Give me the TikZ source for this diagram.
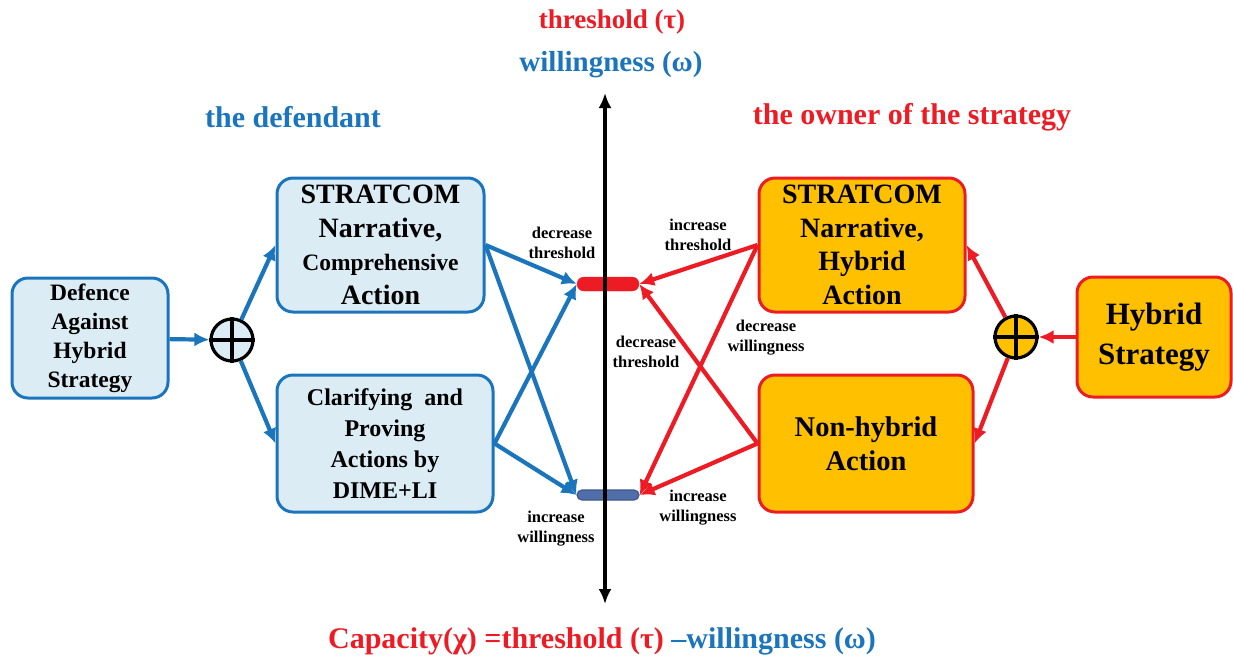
\documentclass[tikz,border=0pt]{standalone}
\usepackage{fontspec}
\setmainfont{Liberation Serif}
\usetikzlibrary{arrows.meta}

\definecolor{defblue}{RGB}{27,117,188}
\definecolor{deffill}{RGB}{219,236,245}
\definecolor{ownred}{RGB}{237,28,36}
\definecolor{ownfill}{RGB}{255,192,0}
\definecolor{barblue}{RGB}{79,110,170}
\newcommand{\fsz}[2]{\fontsize{#1}{#2}\selectfont}

\tikzset{
  defbox/.style={draw=defblue, fill=deffill, line width=3pt, rounded corners=16pt,
    align=center, inner sep=1pt, font=\bfseries},
  ownbox/.style={draw=ownred, fill=ownfill, line width=3pt, rounded corners=16pt,
    align=center, inner sep=1pt, font=\bfseries},
  plusnode/.style={circle, draw=black, line width=3.2pt, minimum size=42pt, inner sep=0pt},
  defarrow/.style={draw=defblue, line width=4.2pt, -{Latex[length=15pt,width=14pt]}},
  ownarrow/.style={draw=ownred, line width=4.2pt, -{Latex[length=15pt,width=14pt]}},
  efflabel/.style={font=\bfseries\fsz{16.5}{20}, align=center},
}

\begin{document}
\begin{tikzpicture}[x=1pt, y=-1pt]
  \useasboundingbox (0,0) rectangle (1233,662);

  % headings
  \node[font=\bfseries\fsz{27}{30}, text=ownred] (thrhead) at (612,22) {threshold (τ)};
  \node[font=\bfseries\fsz{29}{30}, text=defblue] (wilhead) at (611,65) {willingness (ω)};
  \node[font=\bfseries\fsz{30}{32}, text=defblue] (defhead) at (293,117) {the defendant};
  \node[font=\bfseries\fsz{30}{32}, text=ownred] (ownhead) at (912,117) {the owner of the strategy};

  % the defendant side
  \node[defbox, minimum width=156pt, minimum height=120pt, font=\bfseries\fsz{23.5}{29}]
    (defence) at (90,338) {Defence\\Against\\Hybrid\\Strategy};
  \node[plusnode, fill=deffill] (plusL) at (232,340) {};
  \draw[line width=3.2pt] (plusL.north) -- (plusL.south) (plusL.west) -- (plusL.east);
  \node[defbox, minimum width=207pt, minimum height=134pt, font=\bfseries\fsz{28}{33.5}]
    (stratL) at (380.5,245) {STRATCOM\\Narrative,\\{\fsz{23.5}{33.5}Comprehensive}\\Action};
  \node[defbox, minimum width=216pt, minimum height=137pt, font=\bfseries\fsz{24}{31}]
    (clarif) at (385,443.5) {Clarifying\ \ and\\Proving\\Actions by\\DIME+LI};

  % the owner side
  \node[ownbox, minimum width=206pt, minimum height=134pt, font=\bfseries\fsz{28}{33.5}]
    (stratR) at (862,245) {STRATCOM\\Narrative,\\Hybrid\\Action};
  \node[ownbox, minimum width=214pt, minimum height=137pt, font=\bfseries\fsz{28.5}{34}]
    (nonhyb) at (866,443.5) {Non-hybrid\\Action};
  \node[plusnode, fill=ownfill] (plusR) at (1016,337) {};
  \draw[line width=3.2pt] (plusR.north) -- (plusR.south) (plusR.west) -- (plusR.east);
  \node[ownbox, minimum width=154pt, minimum height=120pt, font=\bfseries\fsz{31}{40}]
    (hybrid) at (1154,337) {Hybrid\\Strategy};

  % threshold and willingness bars
  \node[draw=ownred, fill=ownred, rounded corners=7pt, minimum width=62pt, minimum height=14pt,
    inner sep=0pt] (thrbar) at (608,284) {};
  \node[draw=barblue!80!black, fill=barblue, line width=1.2pt, rounded corners=5pt, minimum width=62pt,
    minimum height=10pt, inner sep=0pt] (wilbar) at (608,495) {};

  % axis
  \coordinate (axtop) at (605,93);
  \coordinate (axbot) at (605,604);
  \draw[line width=4pt, {Latex[length=15pt,width=13pt]}-{Latex[length=15pt,width=13pt]}] (axbot) -- (axtop);

  % connectors
  \draw[defarrow] (defence) -- (plusL);
  \draw[defarrow] (plusL) -- (stratL.west);
  \draw[defarrow] (plusL) -- (clarif.west);
  \draw[defarrow] (stratL.east) -- (thrbar.west);
  \draw[defarrow] (stratL.east) -- (wilbar.west);
  \draw[defarrow] (clarif.east) -- (thrbar.west);
  \draw[defarrow] (clarif.east) -- (wilbar.west);
  \draw[ownarrow] (hybrid) -- (plusR);
  \draw[ownarrow] (plusR) -- (stratR.east);
  \draw[ownarrow] (plusR) -- (nonhyb.east);
  \draw[ownarrow] (stratR.west) -- (thrbar.east);
  \draw[ownarrow] (stratR.west) -- (wilbar.east);
  \draw[ownarrow] (nonhyb.west) -- (thrbar.east);
  \draw[ownarrow] (nonhyb.west) -- (wilbar.east);

  % effect labels
  \node[efflabel] (decthrL) at (562,243) {decrease\\threshold};
  \node[efflabel] (incthrR) at (698,235) {increase\\threshold};
  \node[efflabel] (decthrR) at (646,352) {decrease\\threshold};
  \node[efflabel] (decwilR) at (766,338) {decrease\\willingness};
  \node[efflabel] (incwilR) at (698,508) {increase\\willingness};
  \node[efflabel] (incwilL) at (556,529) {increase\\willingness};

  % formula
  \node[font=\bfseries\fsz{30}{32}] (capacity) at (602,641)
    {\textcolor{ownred}{Capacity(χ) =threshold (τ) }\textcolor{defblue}{–willingness (ω)}};
\end{tikzpicture}
\end{document}
